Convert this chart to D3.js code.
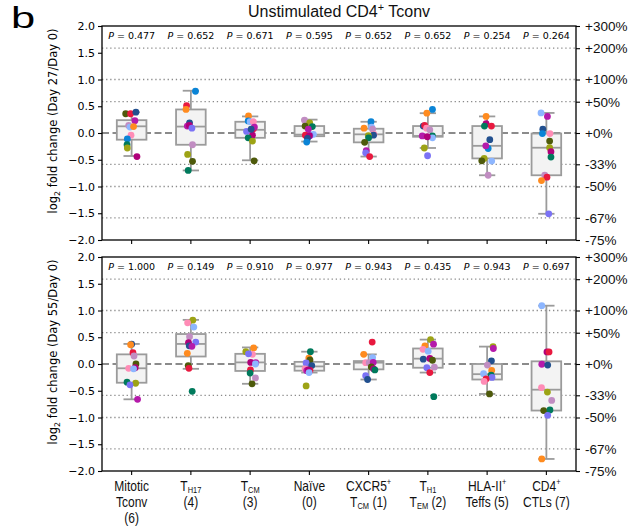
<!DOCTYPE html>
<html>
<head>
<meta charset="utf-8">
<script src="https://cdn.jsdelivr.net/npm/d3@7"></script>
<style>
  body { margin: 0; background: #fff; }
  svg { display: block; }
</style>
</head>
<body>
<svg id="chart" width="639" height="529"></svg>
<script>
// ---- data -------------------------------------------------------------
const categories = ["Mitotic Tconv", "TH17", "TCM", "Naive", "CXCR5+ TCM", "TH1 TEM", "HLA-II+ Teffs", "CD4+ CTLs"];

// axis label lines; each segment is [text, "" | "sub" | "sup"]
const categoryLabels = [
  [[["Mitotic", ""]], [["Tconv", ""]], [["(6)", ""]]],
  [[["T", ""], ["H17", "sub"]], [["(4)", ""]]],
  [[["T", ""], ["CM", "sub"]], [["(3)", ""]]],
  [[["Naïve", ""]], [["(0)", ""]]],
  [[["CXCR5", ""], ["+", "sup"]], [["T", ""], ["CM", "sub"], [" (1)", ""]]],
  [[["T", ""], ["H1", "sub"]], [["T", ""], ["EM", "sub"], [" (2)", ""]]],
  [[["HLA-II", ""], ["+", "sup"]], [["Teffs (5)", ""]]],
  [[["CD4", ""], ["+", "sup"]], [["CTLs (7)", ""]]]
];

const pValuesDay27 = ["0.477", "0.652", "0.671", "0.595", "0.652", "0.652", "0.254", "0.264"];
const pValuesDay55 = ["1.000", "0.149", "0.910", "0.977", "0.943", "0.435", "0.943", "0.697"];

const leftTicks = [2, 1.5, 1, 0.5, 0, -0.5, -1, -1.5, -2];
const foldRatios = [4, 3, 2, 1.5, 1, 2 / 3, 1 / 2, 1 / 3, 1 / 4];
const foldLabels = ["+300%", "+200%", "+100%", "+50%", "+0%", "-33%", "-50%", "-67%", "-75%"];

// donor ids (index into donorColors)
// 0 red, 1 orange, 2 blue, 3 navy, 4 light blue, 5 periwinkle, 6 violet,
// 7 magenta, 8 pink, 9 mauve, 10 teal, 11 dark olive, 12 olive
const donorColors = ["#e8193f", "#ff8b1f", "#0a84d6", "#22508f", "#8db6ff", "#7b72f5",
                     "#b51aaa", "#b0007a", "#ff8cb6", "#c18dc2", "#007a5c", "#4e5a0b", "#9da315"];

// box summaries: [lower whisker, Q1, median, Q3, upper whisker]
const boxDay27 = [
  [-0.43, -0.125, 0.125, 0.24, 0.39],
  [-0.70, -0.22, 0.12, 0.44, 0.79],
  [-0.51, -0.09, 0.06, 0.21, 0.31],
  [-0.16, -0.06, -0.03, 0.13, 0.25],
  [-0.44, -0.175, -0.025, 0.08, 0.21],
  [-0.28, -0.07, -0.055, 0.13, 0.37],
  [-0.79, -0.475, -0.24, 0.13, 0.31],
  [-1.51, -0.79, -0.275, -0.01, 0.375]
];
const boxDay55 = [
  [-0.66, -0.35, -0.08, 0.18, 0.375],
  [-0.09, 0.14, 0.375, 0.56, 0.825],
  [-0.37, -0.13, 0.03, 0.19, 0.31],
  [-0.16, -0.125, -0.045, 0.04, 0.23],
  [-0.29, -0.10, 0.025, 0.055, 0.18],
  [-0.16, -0.07, 0.10, 0.29, 0.456],
  [-0.56, -0.29, -0.19, 0.0, 0.325],
  [-1.775, -0.87, -0.48, 0.05, 1.09]
];

// per-donor log2 fold changes, with donor id and horizontal jitter (box half-widths)
const valuesDay27 = [
  [0.36, 0.36, 0.39, 0.23, 0.14, 0.11, 0.12, -0.04, -0.11, -0.22, -0.28, -0.44],
  [0.78, 0.51, 0.44, 0.19, 0.13, 0.14, 0.09, -0.22, -0.40, -0.53, -0.70],
  [0.32, 0.225, 0.21, 0.21, 0.03, 0.08, 0.11, -0.04, -0.09, -0.15, -0.52, 0.07],
  [0.24, 0.19, 0.13, 0.12, 0.07, -0.04, -0.025, -0.05, -0.05, -0.10, -0.17],
  [0.21, 0.09, 0.11, 0.07, -0.025, -0.04, -0.05, -0.09, -0.175, -0.33, -0.37, -0.44],
  [0.44, 0.37, 0.13, 0.14, 0.09, 0.06, -0.055, -0.09, -0.055, -0.07, -0.28, -0.425],
  [0.31, 0.175, 0.13, 0.13, -0.125, -0.29, -0.24, -0.475, -0.52, -0.525, -0.79],
  [0.375, 0.31, 0.07, -0.01, -0.01, -0.15, -0.275, -0.35, -0.45, -0.79, -0.825, -0.89, -1.51]
];
const donorsDay27 = [
  [11, 0, 3, 6, 9, 4, 1, 8, 2, 10, 12, 7],
  [2, 0, 1, 3, 6, 7, 5, 9, 12, 11, 10],
  [1, 2, 4, 8, 5, 0, 6, 7, 10, 12, 11, 3],
  [9, 12, 11, 10, 6, 0, 4, 5, 7, 3, 2],
  [2, 1, 4, 9, 8, 3, 12, 10, 11, 6, 5, 0],
  [2, 1, 3, 0, 8, 9, 10, 4, 6, 7, 12, 5],
  [1, 7, 10, 0, 3, 2, 6, 12, 11, 4, 9],
  [4, 6, 3, 2, 8, 11, 12, 7, 10, 9, 0, 1, 5]
];
const jitterDay27 = [
  [-0.4, -0.07, 0.29, 0.22, -0.2, -0.11, 0.13, -0.04, -0.29, -0.31, -0.29, 0.36],
  [0.31, -0.29, -0.33, -0.09, -0.24, -0.1, 0.07, 0.11, -0.22, 0.11, -0.18],
  [-0.11, -0.13, 0.0, 0.22, -0.24, 0.22, 0.29, 0.16, -0.13, 0.16, 0.27, 0.07],
  [-0.33, 0.02, -0.29, 0.2, -0.07, -0.27, 0.27, 0.04, 0.0, -0.13, -0.18],
  [0.16, -0.31, 0.2, 0.27, 0.36, 0.33, -0.02, 0.0, -0.27, -0.16, -0.2, 0.07],
  [0.31, -0.07, -0.31, -0.22, -0.09, 0.13, 0.31, 0.31, -0.38, -0.04, -0.24, -0.02],
  [-0.07, -0.07, -0.18, 0.29, 0.18, 0.07, -0.09, -0.2, -0.36, 0.31, 0.07],
  [-0.36, 0.07, -0.24, -0.27, 0.24, 0.22, 0.22, 0.31, 0.31, -0.11, 0.04, -0.33, 0.16]
];

const valuesDay55 = [
  [0.37, 0.36, 0.21, 0.15, 0.0, -0.07, -0.08, -0.09, -0.34, -0.36, -0.39, -0.66],
  [0.82, 0.77, 0.69, 0.51, 0.41, 0.40, 0.34, 0.33, 0.20, -0.03, -0.08, -0.51],
  [0.30, 0.23, 0.18, 0.19, 0.03, 0.025, 0.0, -0.11, -0.17, -0.26, -0.37],
  [0.23, 0.11, 0.075, 0.02, -0.03, -0.09, -0.125, -0.12, -0.11, -0.16, -0.41],
  [0.41, 0.18, 0.12, 0.025, 0.025, 0.03, -0.055, -0.09, -0.11, -0.22, -0.29],
  [0.456, 0.34, 0.37, 0.275, 0.24, 0.09, 0.105, 0.07, -0.06, -0.07, -0.16, -0.61],
  [0.325, 0.29, 0.06, -0.02, -0.12, -0.18, -0.21, -0.25, -0.28, -0.325, -0.56],
  [1.09, 0.225, 0.225, -0.005, -0.02, -0.44, -0.525, -0.68, -0.87, -0.86, -0.96, -1.775]
];
const donorsDay55 = [
  [3, 1, 0, 9, 11, 7, 8, 4, 10, 12, 5, 6],
  [12, 8, 4, 9, 5, 7, 3, 6, 1, 11, 0, 10],
  [1, 12, 8, 5, 7, 6, 4, 0, 10, 9, 11],
  [10, 1, 11, 5, 3, 8, 6, 0, 7, 4, 12],
  [0, 1, 4, 8, 9, 6, 11, 7, 10, 5, 3],
  [12, 1, 6, 8, 4, 3, 7, 11, 9, 5, 0, 10],
  [12, 6, 3, 9, 1, 4, 10, 5, 0, 8, 11],
  [4, 7, 0, 6, 3, 8, 12, 9, 11, 10, 5, 1]
];
const jitterDay55 = [
  [0.0, -0.07, 0.09, 0.16, 0.29, 0.24, -0.2, 0.13, -0.31, 0.27, -0.11, 0.4],
  [0.13, -0.22, 0.2, -0.09, 0.33, -0.16, -0.11, 0.07, -0.24, -0.18, -0.13, 0.09],
  [0.24, -0.29, 0.16, -0.11, 0.04, 0.38, 0.36, 0.02, 0.0, 0.36, 0.13],
  [0.07, -0.04, 0.04, -0.22, 0.16, -0.29, -0.18, 0.04, -0.07, -0.02, -0.22],
  [0.24, -0.33, 0.27, -0.2, 0.04, 0.31, 0.18, 0.33, 0.42, -0.2, -0.07],
  [0.18, -0.2, 0.38, -0.33, 0.02, -0.31, 0.13, 0.31, 0.44, -0.07, 0.13, 0.4],
  [0.4, 0.42, 0.29, 0.02, 0.31, -0.24, 0.27, 0.33, -0.07, -0.2, 0.16],
  [-0.31, 0.04, 0.18, -0.31, 0.09, -0.33, 0.07, 0.36, -0.18, 0.24, 0.09, -0.31]
];

// ---- layout -----------------------------------------------------------
const svg = d3.select("#chart");
const plotLeft = 102, plotRight = 576;
const panels = [
  { top: 26, bottom: 240, box: boxDay27, values: valuesDay27, donors: donorsDay27, jitter: jitterDay27,
    p: pValuesDay27, ylabel: "27", xLabels: false },
  { top: 257, bottom: 471, box: boxDay55, values: valuesDay55, donors: donorsDay55, jitter: jitterDay55,
    p: pValuesDay55, ylabel: "55", xLabels: true }
];

const x = d3.scaleBand().domain(d3.range(categories.length)).range([plotLeft, plotRight]).paddingInner(0);
const boxW = x.bandwidth() * 0.5;
const capW = boxW * 0.55;
const jitterScale = d3.scaleLinear().domain([-1, 1]).range([-boxW / 2, boxW / 2]);
const cx = i => x(i) + x.bandwidth() / 2;

const boxStroke = "#9b9b9b";
const sansFont = "'Liberation Sans', Arial, Helvetica, sans-serif";
const djvFont = "'DejaVu Sans', sans-serif";

// text with inline sub/superscripts
function addRich(textSel, segs, size, subShift = 0.3, subScale = 0.68) {
  let shift = 0;
  segs.forEach(([t, k]) => {
    const target = k === "sub" ? size * subShift : k === "sup" ? -size * 0.38 : 0;
    textSel.append("tspan")
      .attr("dy", target - shift)
      .attr("font-size", k ? size * subScale : size)
      .text(t);
    shift = target;
  });
}

// panel letter
svg.append("g").attr("transform", "translate(11,28.3) scale(1.5,1)")
  .append("text").attr("x", 0).attr("y", 0)
  .attr("font-family", sansFont).attr("font-size", 29).text("b");

// title
const title = svg.append("text").attr("x", 339).attr("y", 17)
  .attr("text-anchor", "middle").attr("font-family", sansFont).attr("fill", "#111");
addRich(title, [["Unstimulated CD4", ""], ["+", "sup"], [" Tconv", ""]], 16);

panels.forEach(panel => {
  const y = d3.scaleLinear().domain([-2, 2]).range([panel.bottom, panel.top]);
  const g = svg.append("g");

  // dotted reference lines at fold-change steps
  g.selectAll("line.grid")
    .data(foldRatios.filter(r => r !== 1 && r !== 4 && r !== 0.25))
    .join("line")
    .attr("x1", plotLeft).attr("x2", plotRight)
    .attr("y1", r => y(Math.log2(r))).attr("y2", r => y(Math.log2(r)))
    .attr("stroke", "#8a8a8a").attr("stroke-width", 1.3)
    .attr("stroke-dasharray", "1.3,2.8");

  // zero line
  g.append("line")
    .attr("x1", plotLeft).attr("x2", plotRight)
    .attr("y1", y(0)).attr("y2", y(0))
    .attr("stroke", "#666").attr("stroke-width", 1.6)
    .attr("stroke-dasharray", "7,3.5");

  // boxes
  const boxes = g.selectAll("g.box").data(panel.box).join("g");
  boxes.append("line")
    .attr("x1", (d, i) => cx(i)).attr("x2", (d, i) => cx(i))
    .attr("y1", d => y(d[0])).attr("y2", d => y(d[1]))
    .attr("stroke", boxStroke).attr("stroke-width", 1.8);
  boxes.append("line")
    .attr("x1", (d, i) => cx(i)).attr("x2", (d, i) => cx(i))
    .attr("y1", d => y(d[3])).attr("y2", d => y(d[4]))
    .attr("stroke", boxStroke).attr("stroke-width", 1.8);
  [0, 4].forEach(k => {
    boxes.append("line")
      .attr("x1", (d, i) => cx(i) - capW / 2).attr("x2", (d, i) => cx(i) + capW / 2)
      .attr("y1", d => y(d[k])).attr("y2", d => y(d[k]))
      .attr("stroke", boxStroke).attr("stroke-width", 1.8);
  });
  boxes.append("rect")
    .attr("x", (d, i) => cx(i) - boxW / 2).attr("width", boxW)
    .attr("y", d => y(d[3])).attr("height", d => Math.max(0.5, y(d[1]) - y(d[3])))
    .attr("fill", "#f3f3f3").attr("stroke", boxStroke).attr("stroke-width", 1.8);
  boxes.append("line")
    .attr("x1", (d, i) => cx(i) - boxW / 2).attr("x2", (d, i) => cx(i) + boxW / 2)
    .attr("y1", d => y(d[2])).attr("y2", d => y(d[2]))
    .attr("stroke", boxStroke).attr("stroke-width", 1.8);

  // donor points
  const pts = [];
  panel.values.forEach((vals, i) => vals.forEach((v, j) => {
    pts.push({ cat: i, value: v, donor: panel.donors[i][j], jit: panel.jitter[i][j] });
  }));
  g.selectAll("circle.pt").data(pts).join("circle")
    .attr("cx", d => cx(d.cat) + jitterScale(d.jit))
    .attr("cy", d => y(d.value))
    .attr("r", 3.4)
    .attr("fill", d => donorColors[d.donor]);

  // P values
  const pt = g.selectAll("text.p").data(panel.p).join("text")
    .attr("x", (d, i) => cx(i)).attr("y", panel.top + 12.5)
    .attr("text-anchor", "middle").attr("font-family", djvFont).attr("font-size", 9.5);
  pt.append("tspan").attr("font-style", "italic").text("P");
  pt.append("tspan").text(d => " = " + d);

  // frame
  g.append("rect")
    .attr("x", plotLeft).attr("y", panel.top)
    .attr("width", plotRight - plotLeft).attr("height", panel.bottom - panel.top)
    .attr("fill", "none").attr("stroke", "#000").attr("stroke-width", 1.3);

  // left axis
  const leftAxis = d3.axisLeft(y).tickValues(leftTicks).tickSize(4).tickPadding(3)
    .tickFormat(d => d3.format(".1f")(d).replace("-", "\u2212"));
  const la = g.append("g").attr("transform", `translate(${plotLeft},0)`).call(leftAxis);
  la.select(".domain").remove();
  la.selectAll("line").attr("stroke", "#000").attr("stroke-width", 1.1);
  la.selectAll("text").attr("font-family", djvFont).attr("font-size", 11).attr("fill", "#000");

  // right axis in percent change
  const rightAxis = d3.axisRight(y).tickValues(foldRatios.map(r => Math.log2(r))).tickSize(4).tickPadding(5)
    .tickFormat((d, i) => foldLabels[i]);
  const ra = g.append("g").attr("transform", `translate(${plotRight},0)`).call(rightAxis);
  ra.select(".domain").remove();
  ra.selectAll("line").attr("stroke", "#000").attr("stroke-width", 1.1);
  ra.selectAll("text").attr("font-family", sansFont).attr("font-size", 13.5).attr("fill", "#111");

  // bottom category ticks
  const bottomAxis = d3.axisBottom(x).tickSize(4).tickFormat("");
  const ba = g.append("g").attr("transform", `translate(0,${panel.bottom})`).call(bottomAxis);
  ba.select(".domain").remove();
  ba.selectAll("line").attr("stroke", "#000").attr("stroke-width", 1.1);

  // y-axis title
  const yl = g.append("text")
    .attr("transform", `translate(57,${(panel.top + panel.bottom) / 2 - 12}) rotate(-90)`)
    .attr("text-anchor", "middle").attr("font-family", djvFont).attr("fill", "#000");
  addRich(yl, [["log", ""], ["2", "sub"], [` fold change (Day ${panel.ylabel}/Day 0)`, ""]], 11.5);

  // category labels
  if (panel.xLabels) {
    categoryLabels.forEach((lines, i) => {
      lines.forEach((segs, li) => {
        const t = svg.append("g")
          .attr("transform", `translate(${cx(i)},${490.5 + li * 16}) scale(0.86,1)`)
          .append("text")
          .attr("text-anchor", "middle").attr("font-family", sansFont).attr("fill", "#111");
        addRich(t, segs, 14, 0.16, 0.62);
      });
    });
  }
});
</script>
</body>
</html>
